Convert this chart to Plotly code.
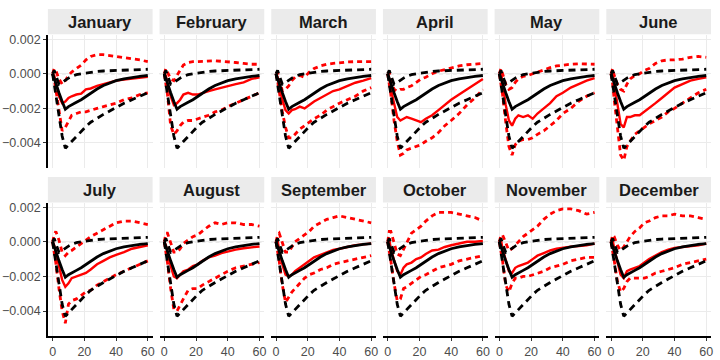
import plotly.graph_objects as go

months = ["January", "February", "March", "April", "May", "June",
          "July", "August", "September", "October", "November", "December"]

horizon = [0, 1, 2, 4, 6, 8, 10, 12, 15, 18, 21, 24, 28, 32, 36, 40, 45, 50, 55, 60]

# all responses below are in thousandths
black_mid = [0, -0.3, -0.55, -1.1, -1.6, -2.05, -1.9, -1.78, -1.65, -1.5, -1.3, -1.1, -0.88, -0.68, -0.52, -0.4, -0.29, -0.21, -0.15, -0.1]
black_up = [0, 0.2, -0.1, -0.6, -0.5, -0.35, -0.25, -0.15, -0.05, 0.0, 0.05, 0.1, 0.13, 0.16, 0.18, 0.2, 0.22, 0.24, 0.25, 0.26]
black_lo = [0, -0.6, -1.2, -2.5, -3.6, -4.3, -4.1, -3.9, -3.6, -3.3, -3.05, -2.8, -2.55, -2.35, -2.15, -1.95, -1.7, -1.5, -1.3, -1.1]

red_mid = [
    [0, -0.1, -0.5, -1.3, -1.7, -1.6, -1.4, -1.3, -1.2, -1.15, -0.9, -0.85, -0.7, -0.6, -0.48, -0.4, -0.33, -0.27, -0.22, -0.18],
    [0, -0.1, -0.6, -1.3, -1.8, -1.7, -1.5, -1.2, -1.1, -1.2, -1.2, -1.1, -1.0, -0.9, -0.8, -0.7, -0.6, -0.5, -0.3, -0.2],
    [0, -0.2, -0.7, -1.5, -2.1, -2.3, -2.1, -2.05, -1.9, -2.0, -1.8, -1.6, -1.4, -1.2, -1.0, -0.9, -0.7, -0.52, -0.4, -0.25],
    [0, -0.3, -0.9, -1.8, -2.5, -2.7, -2.6, -2.5, -2.6, -2.7, -2.8, -2.6, -2.4, -2.1, -1.8, -1.5, -1.2, -0.9, -0.6, -0.3],
    [0, 0.1, -0.5, -1.8, -2.7, -3.0, -2.6, -2.4, -2.5, -2.4, -2.6, -2.3, -2.0, -1.7, -1.3, -1.1, -0.8, -0.6, -0.4, -0.25],
    [0, 0.1, -0.6, -1.9, -2.9, -3.1, -2.5, -2.5, -2.4, -2.4, -2.2, -2.0, -1.7, -1.4, -1.1, -0.8, -0.6, -0.4, -0.3, -0.2],
    [0, -0.2, -0.6, -1.4, -2.2, -2.6, -2.4, -2.1, -2.0, -1.9, -1.8, -1.6, -1.3, -1.1, -0.9, -0.75, -0.6, -0.4, -0.3, -0.2],
    [0, -0.2, -0.6, -1.4, -2.0, -2.1, -1.9, -1.7, -1.6, -1.4, -1.3, -1.1, -0.9, -0.8, -0.65, -0.55, -0.45, -0.37, -0.3, -0.27],
    [0, 0.1, -0.5, -1.3, -1.9, -2.0, -1.9, -1.7, -1.5, -1.3, -1.1, -0.9, -0.75, -0.6, -0.47, -0.4, -0.3, -0.2, -0.15, -0.1],
    [0, 0.1, -0.4, -1.1, -1.7, -1.9, -1.5, -1.3, -1.2, -1.0, -0.9, -0.7, -0.5, -0.45, -0.3, -0.2, -0.1, 0.0, 0.0, 0.05],
    [0, 0.1, -0.4, -1.1, -1.7, -1.8, -1.5, -1.4, -1.3, -1.2, -1.0, -0.8, -0.65, -0.5, -0.4, -0.33, -0.28, -0.25, -0.2, -0.1],
    [0, 0.1, -0.4, -1.2, -1.9, -2.1, -1.7, -1.6, -1.5, -1.4, -1.2, -1.0, -0.8, -0.6, -0.45, -0.35, -0.3, -0.25, -0.2, -0.1],
]
red_up = [
    [0, 0.3, 0.2, -0.3, -0.6, -0.4, -0.1, 0.1, 0.3, 0.5, 0.8, 1.0, 1.1, 1.1, 1.05, 1.0, 0.95, 0.9, 0.8, 0.7],
    [0, 0.3, 0.1, -0.3, -0.4, -0.1, 0.2, 0.5, 0.65, 0.7, 0.7, 0.72, 0.75, 0.75, 0.72, 0.7, 0.65, 0.6, 0.55, 0.55],
    [0, 0.1, -0.3, -1.0, -0.9, -0.7, -0.4, -0.2, -0.1, -0.2, 0.1, 0.3, 0.45, 0.55, 0.6, 0.65, 0.68, 0.7, 0.7, 0.7],
    [0, 0.1, -0.3, -0.9, -1.0, -0.9, -0.9, -0.8, -0.7, -0.5, -0.3, -0.2, 0.0, 0.15, 0.25, 0.35, 0.45, 0.52, 0.57, 0.6],
    [0, 0.3, 0.0, -0.6, -0.9, -0.8, -0.5, -0.3, -0.15, -0.1, 0.0, 0.1, 0.25, 0.35, 0.45, 0.5, 0.55, 0.58, 0.58, 0.55],
    [0, 0.3, -0.1, -0.6, -0.9, -1.0, -0.6, -0.3, -0.1, 0.0, 0.2, 0.3, 0.6, 0.75, 0.8, 0.8, 0.85, 0.95, 1.0, 0.95],
    [0, 0.4, 0.6, 0.1, -0.6, -0.8, -0.6, -0.5, -0.3, -0.1, 0.1, 0.3, 0.5, 0.7, 0.9, 1.1, 1.2, 1.2, 1.1, 1.0],
    [0, 0.5, 0.5, -0.1, -0.6, -0.6, -0.4, -0.1, 0.1, 0.3, 0.4, 0.6, 0.9, 1.1, 1.0, 1.1, 1.1, 1.0, 1.0, 0.9],
    [0, 0.4, 0.5, 0.0, -0.6, -0.6, -0.3, 0.0, 0.2, 0.4, 0.6, 0.9, 1.1, 1.3, 1.4, 1.5, 1.4, 1.3, 1.2, 1.1],
    [0, 0.6, 0.6, 0.0, -0.7, -0.8, -0.4, 0.0, 0.5, 0.7, 0.9, 1.2, 1.5, 1.7, 1.7, 1.7, 1.6, 1.5, 1.4, 1.2],
    [0, 0.4, 0.4, -0.1, -0.5, -0.4, -0.2, 0.0, 0.3, 0.5, 0.7, 0.9, 1.3, 1.6, 1.8, 1.9, 1.9, 1.8, 1.6, 1.7],
    [0, 0.4, 0.3, -0.2, -0.5, -0.3, 0.0, 0.3, 0.6, 0.8, 1.1, 1.2, 1.4, 1.5, 1.5, 1.6, 1.5, 1.5, 1.4, 1.3],
]
red_lo = [
    [0, -0.3, -0.9, -2.2, -3.3, -3.1, -2.7, -2.4, -2.3, -2.2, -2.2, -2.1, -2.0, -1.9, -1.8, -1.7, -1.5, -1.4, -1.2, -1.1],
    [0, -0.5, -1.2, -3.0, -3.5, -3.3, -3.0, -2.8, -2.7, -2.7, -2.6, -2.5, -2.4, -2.2, -2.1, -1.9, -1.7, -1.5, -1.3, -1.1],
    [0, -0.4, -1.0, -2.2, -3.1, -3.7, -3.7, -3.5, -3.2, -3.0, -2.8, -2.6, -2.4, -2.1, -1.9, -1.7, -1.5, -1.3, -1.0, -0.8],
    [0, -0.5, -1.2, -2.7, -3.9, -4.7, -4.6, -4.4, -4.3, -4.2, -4.1, -3.9, -3.7, -3.4, -3.0, -2.7, -2.3, -1.8, -1.4, -0.9],
    [0, -0.5, -1.2, -2.8, -4.2, -4.7, -4.1, -3.9, -3.8, -3.8, -3.7, -3.5, -3.3, -3.0, -2.7, -2.3, -2.0, -1.6, -1.3, -1.1],
    [0, -0.6, -1.5, -3.3, -4.7, -5.0, -4.2, -3.9, -3.5, -3.3, -3.1, -2.9, -2.7, -2.5, -2.2, -2.0, -1.7, -1.4, -1.1, -0.9],
    [0, -0.5, -1.2, -2.7, -4.0, -4.7, -3.6, -3.4, -3.3, -3.1, -2.9, -2.8, -2.5, -2.3, -2.1, -1.9, -1.7, -1.5, -1.3, -1.1],
    [0, -0.5, -1.2, -2.7, -3.9, -4.0, -3.6, -3.3, -2.8, -2.7, -2.7, -2.5, -2.3, -2.1, -1.9, -1.7, -1.5, -1.4, -1.3, -1.2],
    [0, -0.5, -1.1, -2.5, -3.5, -3.2, -2.9, -2.7, -2.4, -2.1, -1.9, -1.8, -1.6, -1.5, -1.3, -1.2, -1.1, -1.0, -0.9, -0.8],
    [0, -0.5, -1.1, -2.4, -3.4, -3.3, -2.7, -2.6, -2.4, -2.2, -2.0, -1.9, -1.7, -1.5, -1.4, -1.3, -1.1, -1.0, -0.9, -0.8],
    [0, -0.5, -1.1, -2.5, -2.9, -2.4, -2.1, -2.1, -2.0, -2.0, -1.9, -1.8, -1.7, -1.5, -1.4, -1.3, -1.1, -1.0, -0.9, -0.9],
    [0, -0.5, -1.1, -2.3, -2.9, -2.7, -2.3, -2.1, -2.1, -2.1, -2.1, -2.0, -1.8, -1.7, -1.6, -1.5, -1.3, -1.2, -1.1, -1.0],
]

x_ticks = [0, 20, 40, 60]
y_ticks = [-0.004, -0.002, 0.0, 0.002]

W, H = 720, 360
col_left = [48, 160, 272, 384, 496, 608]
panel_w = 105
row_top = [33, 202]
panel_h = 134
strip_h = 26


def th(vals):
    return [v / 1000 for v in vals]


fig = go.Figure()
layout = {}
shapes = []
annotations = []

for i, month in enumerate(months):
    r, c = divmod(i, 6)
    n = i + 1
    xa = "x" if n == 1 else "x%d" % n
    ya = "y" if n == 1 else "y%d" % n

    x0 = col_left[c] / W
    x1 = (col_left[c] + panel_w) / W
    y1 = 1 - row_top[r] / H
    y0 = 1 - (row_top[r] + panel_h) / H

    left = c == 0
    bottom = r == 1
    layout["xaxis" if n == 1 else "xaxis%d" % n] = dict(
        domain=[x0, x1], anchor=ya, range=[-3, 63], tickvals=x_ticks,
        showticklabels=bottom, showline=bottom, linecolor="black", linewidth=1.5,
        ticks="outside" if bottom else "", ticklen=3, tickcolor="#333333",
        showgrid=True, gridcolor="#EBEBEB", gridwidth=1, zeroline=False,
        tickfont=dict(size=12.5, color="#4D4D4D"),
    )
    layout["yaxis" if n == 1 else "yaxis%d" % n] = dict(
        domain=[y0, y1], anchor=xa, range=[-0.00545, 0.00225], tickvals=y_ticks,
        tickformat=".3f", showticklabels=left, showline=left, linecolor="black",
        linewidth=1.5, ticks="outside" if left else "", ticklen=3, tickcolor="#333333",
        showgrid=True, gridcolor="#EBEBEB", gridwidth=1, zeroline=False,
        tickfont=dict(size=12.5, color="#4D4D4D"),
    )

    # strip
    sy1 = 1 - (row_top[r] - strip_h) / H
    shapes.append(dict(type="rect", xref="paper", yref="paper", x0=x0, x1=x1,
                       y0=y1 + 0.5 / H, y1=sy1, fillcolor="#EBEBEB", line=dict(width=0),
                       layer="below"))
    annotations.append(dict(text="<b>%s</b>" % month, xref="paper", yref="paper",
                            x=(x0 + x1) / 2, y=(y1 + sy1) / 2, showarrow=False,
                            xanchor="center", yanchor="middle",
                            font=dict(size=16.5, color="#1A1A1A")))

    # zero reference
    shapes.append(dict(type="line", xref="%s domain" % xa, yref=ya, x0=0, x1=1,
                       y0=0, y1=0, line=dict(color="#BDBDBD", width=1, dash="4px,3px"),
                       layer="below"))

    red_dash = "5px,4px"
    blk_dash = "7px,5px"
    fig.add_trace(go.Scatter(x=horizon, y=th(red_up[i]), mode="lines", xaxis=xa, yaxis=ya,
                             line=dict(color="#FF0000", width=2.8, dash=red_dash), showlegend=False))
    fig.add_trace(go.Scatter(x=horizon, y=th(red_lo[i]), mode="lines", xaxis=xa, yaxis=ya,
                             line=dict(color="#FF0000", width=2.8, dash=red_dash), showlegend=False))
    fig.add_trace(go.Scatter(x=horizon, y=th(red_mid[i]), mode="lines", xaxis=xa, yaxis=ya,
                             line=dict(color="#FF0000", width=2.4), showlegend=False))
    fig.add_trace(go.Scatter(x=horizon, y=th(black_up), mode="lines", xaxis=xa, yaxis=ya,
                             line=dict(color="black", width=2.8, dash=blk_dash), showlegend=False))
    fig.add_trace(go.Scatter(x=horizon, y=th(black_lo), mode="lines", xaxis=xa, yaxis=ya,
                             line=dict(color="black", width=2.8, dash=blk_dash), showlegend=False))
    fig.add_trace(go.Scatter(x=horizon, y=th(black_mid), mode="lines", xaxis=xa, yaxis=ya,
                             line=dict(color="black", width=2.8), showlegend=False))

fig.update_layout(
    width=W, height=H, margin=dict(l=0, r=0, t=0, b=0),
    paper_bgcolor="white", plot_bgcolor="white",
    font=dict(family="Liberation Sans, Arial, sans-serif"),
    shapes=shapes, annotations=annotations, showlegend=False,
    **layout,
)

fig.write_html("out.html", config={"displayModeBar": False},
               post_script="document.body.style.margin='0';")
